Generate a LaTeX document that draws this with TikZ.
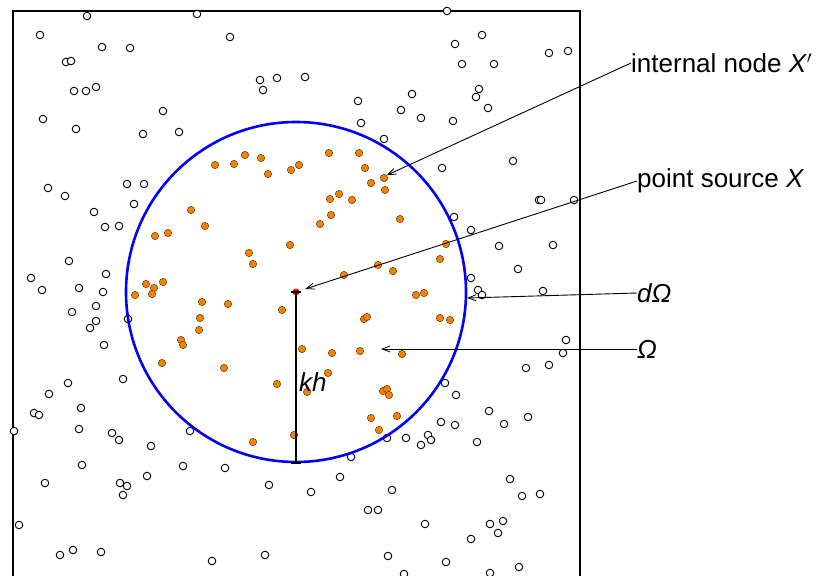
\documentclass[tikz,border=0pt]{standalone}
\usepackage{fontspec}
\setmainfont{Liberation Sans}
\usetikzlibrary{arrows.meta}
\definecolor{dotorange}{RGB}{242,130,0}
\definecolor{dotedge}{RGB}{110,60,10}
\definecolor{ringblue}{RGB}{0,0,255}
\tikzset{
  opendot/.style={circle,draw=black,fill=white,line width=0.9pt,minimum size=7.6pt,inner sep=0pt},
  orangedot/.style={circle,draw=dotedge,fill=dotorange,line width=0.5pt,minimum size=7.4pt,inner sep=0pt},
  srcdot/.style={circle,fill=red,minimum size=7pt,inner sep=0pt},
  lbl/.style={anchor=west,inner sep=0pt,font=\fontsize{26}{30}\selectfont},
  leader/.style={line width=0.9pt,-{Straight Barb[length=8pt,width=6pt,line width=0.8pt]}},
  frame/.style={line width=2pt},
  ring/.style={draw=ringblue,line width=2.6pt}
}
\begin{document}
\begin{tikzpicture}[x=1pt,y=-1pt]
\useasboundingbox (0,0) rectangle (820,576);
\clip (0,0) rectangle (820,576);
\fill[white] (0,0) rectangle (820,576);
% frame
\draw[frame] (13,10.5) rectangle (579.5,576.5);
% open (external) nodes
\foreach \x/\y [count=\i] in {40/35,87/16,197/14,230/37,102/47,130/48,66/62,71/61,74/91,86/91,96/87,260/80,277/78,263/90,43/119,76/129,163/111,143/134,179/132,48/188,65/196,127/184,144/184,
447/11,482/35,455/44,549/53,568/51,462/64,494/64,305/77,412/94,479/89,476/97,358/101,401/110,421/118,488/108,453/121,361/123,384/139,442/168,513/161,539/200,541/200,574/200,
134/204,94/212,105/227,119/226,69/261,106/274,31/278,42/290,79/288,103/292,96/306,72/312,128/319,96/321,90/328,104/345,68/383,123/379,
454/217,471/230,499/246,553/245,518/269,471/278,478/290,482/295,543/291,566/340,563/353,526/368,549/365,445/383,
49/394,81/408,34/413,39/415,14/431,79/429,112/433,119/440,151/446,190/431,82/465,183/466,225/468,45/483,120/483,127/486,123/495,147/476,269/485,19/525,60/555,73/550,101/552,212/561,265/555,
456/395,489/411,504/424,528/417,441/422,455/425,387/438,406/438,428/435,431/440,421/445,477/442,351/457,340/477,311/492,392/490,510/479,522/496,540/494,368/510,378/510,425/524,490/524,503/521,498/533,471/539,388/556,446/562,519/567,404/574,490/573}
  \node[opendot] (o\i) at (\x,\y) {};
% domain boundary
\node[circle,ring,minimum size=340pt,inner sep=0pt] (Omega) at (296,292) {};
% internal (orange) nodes
\foreach \x/\y [count=\i] in {215/165,234/164,245/155,261/158,268/174,291/170,299/165,
329/153,359/153,365/168,371/183,385/190,339/194,330/199,352/200,
191/210,205/226,155/236,168/233,249/253,253/264,290/245,146/284,154/288,163/282,135/295,152/294,202/302,228/304,282/310,200/318,199/330,181/340,183/345,162/363,224/368,277/384,
331/215,320/224,400/219,446/244,440/259,378/265,393/271,344/275,416/295,424/293,364/319,367/317,440/318,450/320,302/349,332/353,360/351,402/354,328/373,
253/442,294/435,307/392,383/391,387/389,389/395,371/418,397/416,379/430}
  \node[orangedot] (n\i) at (\x,\y) {};
\node[orangedot] (Xp) at (384,178) {};
% radius kh
\node[srcdot] (X) at (296,292) {};
\coordinate (rtop) at (296,292);
\coordinate (rbot) at (296,463);
\draw[line width=1.3pt] (rtop) -- (rbot);
\draw[line width=1.3pt] ([xshift=-5pt]rtop) -- ([xshift=5pt]rtop);
\draw[line width=1.3pt] ([xshift=-5pt]rbot) -- ([xshift=5pt]rbot);
\node[anchor=base west,inner sep=0pt,font=\fontsize{26}{30}\selectfont\itshape] (kh) at (299,391) {kh};
% labels
\node[lbl] (Lint) at (631,63) {internal node \textit{X}$^{\prime}$};
\node[lbl] (Lsrc) at (637,181) {point source \textit{X}};
\node[lbl] (LdO) at (637,293) {\textit{dΩ}};
\node[lbl] (LO) at (637,349) {\textit{Ω}};
\coordinate (dOtip) at (467,298);
\coordinate (Otip) at (381,349);
% leaders
\draw[leader] (Lint.west) -- (Xp.north east);
\draw[leader,shorten >=6pt] (Lsrc.west) -- (X);
\draw[leader] (LdO.west) -- (dOtip);
\draw[leader] (LO.west) -- (Otip);
\end{tikzpicture}
\end{document}
